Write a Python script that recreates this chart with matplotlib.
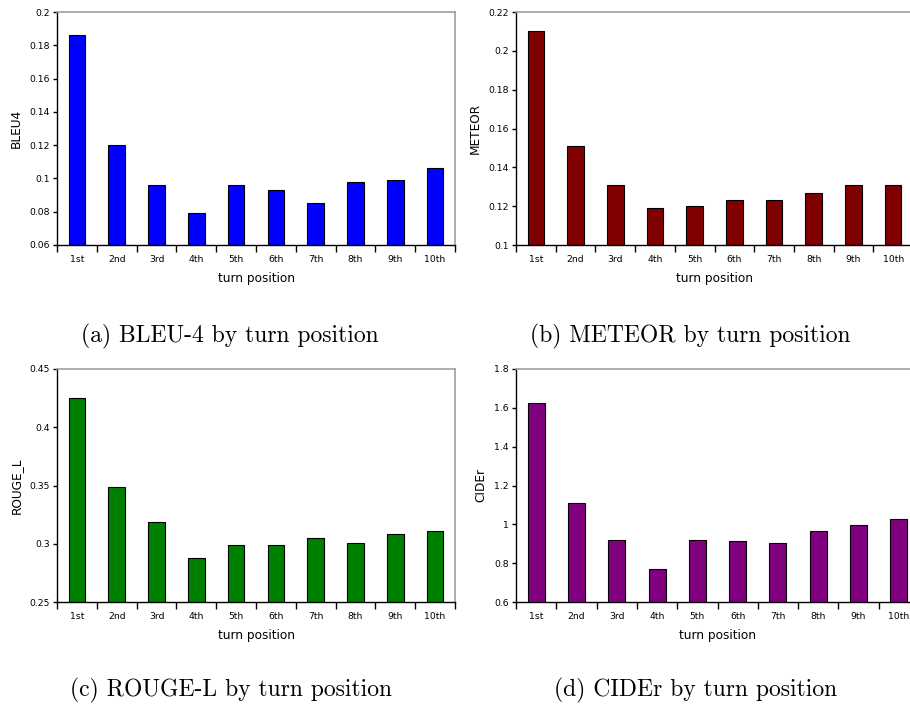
import matplotlib
matplotlib.use("Agg")
import matplotlib.pyplot as plt
from matplotlib.ticker import FixedLocator, FormatStrFormatter, NullFormatter

turns = ['1st', '2nd', '3rd', '4th', '5th', '6th', '7th', '8th', '9th', '10th']

bleu4 = [0.186, 0.120, 0.096, 0.079, 0.096, 0.093, 0.085, 0.098, 0.099, 0.106]
meteor = [0.210, 0.151, 0.131, 0.119, 0.120, 0.123, 0.123, 0.127, 0.131, 0.131]
rouge_l = [0.425, 0.349, 0.319, 0.288, 0.299, 0.299, 0.305, 0.301, 0.308, 0.311]
cider = [1.626, 1.112, 0.917, 0.771, 0.919, 0.914, 0.905, 0.967, 0.994, 1.026]

W, H = 910.0, 704.0
fig = plt.figure(figsize=(W / 100, H / 100), dpi=100)


def panel(rect_px, vals, color, ylabel, yticks, caption, cap_xy):
    l, t, r, b = rect_px
    ax = fig.add_axes([l / W, (H - b) / H, (r - l) / W, (b - t) / H])
    x = list(range(len(vals)))
    ax.bar(x, vals, width=0.42, color=color, edgecolor='black', linewidth=0.8, zorder=2)
    ax.set_xlim(-0.5, len(vals) - 0.5)
    ax.set_ylim(yticks[0], yticks[-1])
    ax.set_yticks(yticks)
    ax.yaxis.set_major_formatter(FormatStrFormatter('%g'))
    ax.set_xticks(x)
    ax.set_xticklabels(turns)
    ax.xaxis.set_minor_locator(FixedLocator([i - 0.5 for i in range(len(vals) + 1)]))
    ax.xaxis.set_minor_formatter(NullFormatter())
    ax.tick_params(axis='x', which='major', length=0, pad=7, labelsize=6.7)
    ax.tick_params(axis='x', which='minor', length=5, width=1, direction='out')
    ax.tick_params(axis='y', length=3, width=1, direction='out', pad=2, labelsize=6.7)
    for s in ('top', 'right'):
        ax.spines[s].set_color('#a0a0a0')
        ax.spines[s].set_linewidth(1.2)
    for s in ('left', 'bottom'):
        ax.spines[s].set_color('black')
        ax.spines[s].set_linewidth(1.0)
    ax.set_xlabel('turn position', fontsize=8.7, labelpad=6)
    ax.set_ylabel(ylabel, fontsize=8.7, labelpad=5)
    fig.text(cap_xy[0] / W, 1 - cap_xy[1] / H, caption, family='cmr10',
             fontsize=17, ha='center', va='center')
    return ax


panel((57, 12, 455, 245), bleu4, '#0000ff', 'BLEU4',
      [0.06, 0.08, 0.10, 0.12, 0.14, 0.16, 0.18, 0.20],
      '(a) BLEU-4 by turn position', (230, 336))
panel((516, 12, 913, 245), meteor, '#800000', 'METEOR',
      [0.10, 0.12, 0.14, 0.16, 0.18, 0.20, 0.22],
      '(b) METEOR by turn position', (690, 336))
panel((57, 369, 455, 602), rouge_l, '#008000', 'ROUGE_L',
      [0.25, 0.30, 0.35, 0.40, 0.45],
      '(c) ROUGE-L by turn position', (231, 690))
panel((516, 369, 919, 602), cider, '#800080', 'CIDEr',
      [0.6, 0.8, 1.0, 1.2, 1.4, 1.6, 1.8],
      '(d) CIDEr by turn position', (696, 690))

plt.savefig('out.png', dpi=100)
